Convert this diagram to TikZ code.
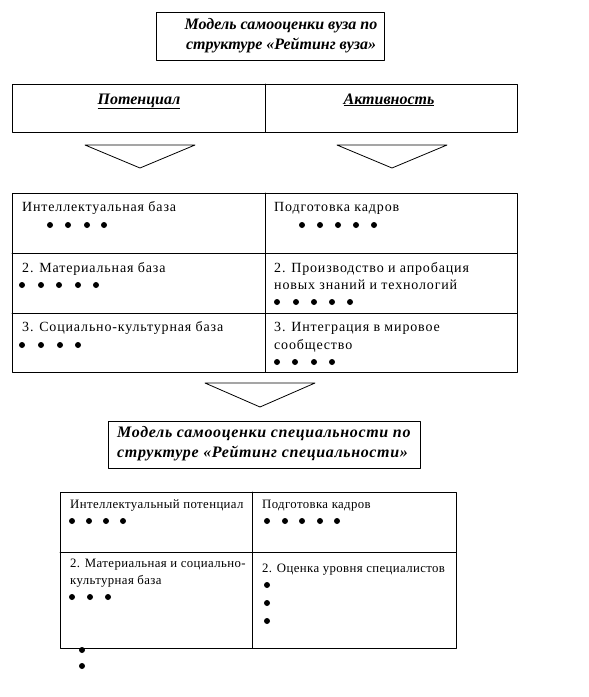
\documentclass[tikz,border=0pt]{standalone}
\usepackage{fontspec}
\setmainfont{Liberation Serif}
\newfontfamily\widefont[LetterSpace=6]{Liberation Serif}
\newfontfamily\smallfont[LetterSpace=3]{Liberation Serif}
\newfontfamily\specfont[LetterSpace=4]{Liberation Serif}
\tikzset{
  box/.style={line width=0.8pt},
  title/.style={font=\fontsize{16}{20}\selectfont\bfseries\itshape, align=left, inner sep=0pt},
  txt/.style={font=\widefont\fontsize{14}{17}\selectfont, anchor=base west, inner sep=0pt},
  smalltxt/.style={font=\smallfont\fontsize{12.8}{17}\selectfont, anchor=base west, inner sep=0pt},
}
\begin{document}
\begin{tikzpicture}[x=1pt,y=-1pt, line cap=round, line join=round]
        \useasboundingbox (0,0) rectangle (589,697);
        % model of the university
        \draw[box] (156,12) rectangle (384,60);
        \node[title, align=center] (vuz) at (281,36) {Модель самооценки вуза по\\структуре «Рейтинг вуза»};

        \draw[box] (12,84) rectangle (517,132);
        \draw[box] (265,84) -- (265,132);
        \node[title, anchor=base] (pot) at (139,104) {\underline{Потенциал}};
        \node[title, anchor=base] (akt) at (389,104) {\underline{Активность}};

        \draw[box] (85,145) -- (195,145) -- (140,168) -- cycle;
        \draw[box] (337,145) -- (447,145) -- (392,168) -- cycle;

        % table of the university
        \draw[box] (12,193) rectangle (517,372);
        \draw[box] (265,193) -- (265,372);
        \draw[box] (12,253) -- (517,253);
        \draw[box] (12,313) -- (517,313);
        \node[txt] (l1) at (22,211) {Интеллектуальная база};
        \node[txt] (r1) at (274,211) {Подготовка кадров};
        \node[txt] (l2) at (22,272) {2. Материальная база};
        \node[txt] (r2) at (274,272) {2. Производство и апробация};
        \node[txt] (r2b) at (274,289) {новых знаний и технологий};
        \node[txt] (l3) at (22,331) {3. Социально-культурная база};
        \node[txt] (r3) at (274,331) {3. Интеграция в мировое};
        \node[txt] (r3b) at (274,349) {сообщество};
        \foreach \x in {50,68,87,104} \fill (\x,225) circle (3pt);
        \foreach \x in {302,320,338,356,374} \fill (\x,225) circle (3pt);
        \foreach \x in {22,41,59,78,96} \fill (\x,285) circle (3pt);
        \foreach \x in {277,296,314,332,350} \fill (\x,302) circle (3pt);
        \foreach \x in {22,41,60,78} \fill (\x,345) circle (3pt);
        \foreach \x in {277,295,314,332} \fill (\x,362) circle (3pt);

        \draw[box] (205,383) -- (315,383) -- (260,407) -- cycle;

        % model of the speciality
        \draw[box] (108,421) rectangle (420,468);
        \node[title, font=\specfont\fontsize{16}{20}\selectfont\bfseries\itshape, anchor=north west] (spec) at (117,426) {Модель самооценки специальности по\\структуре «Рейтинг специальности»};

        % table of the speciality
        \draw[box] (60,492) rectangle (456,648);
        \draw[box] (252,492) -- (252,648);
        \draw[box] (60,552) -- (456,552);
        \node[smalltxt] (sl1) at (70,508) {Интеллектуальный потенциал};
        \node[smalltxt] (sr1) at (262,508) {Подготовка кадров};
        \node[smalltxt] (sl2) at (70,567) {2. Материальная и социально-};
        \node[smalltxt] (sl2b) at (70,584) {культурная база};
        \node[smalltxt] (sr2) at (262,572) {2. Оценка уровня специалистов};
        \foreach \x in {72,89,106,123} \fill (\x,521) circle (3pt);
        \foreach \x in {267,285,302,320,337} \fill (\x,521) circle (3pt);
        \foreach \x in {72,90,108} \fill (\x,597) circle (3pt);
        \foreach \y in {585,603,621} \fill (267,\y) circle (3pt);
        \foreach \y in {650,666} \fill (82,\y) circle (3pt);
\end{tikzpicture}
\end{document}
